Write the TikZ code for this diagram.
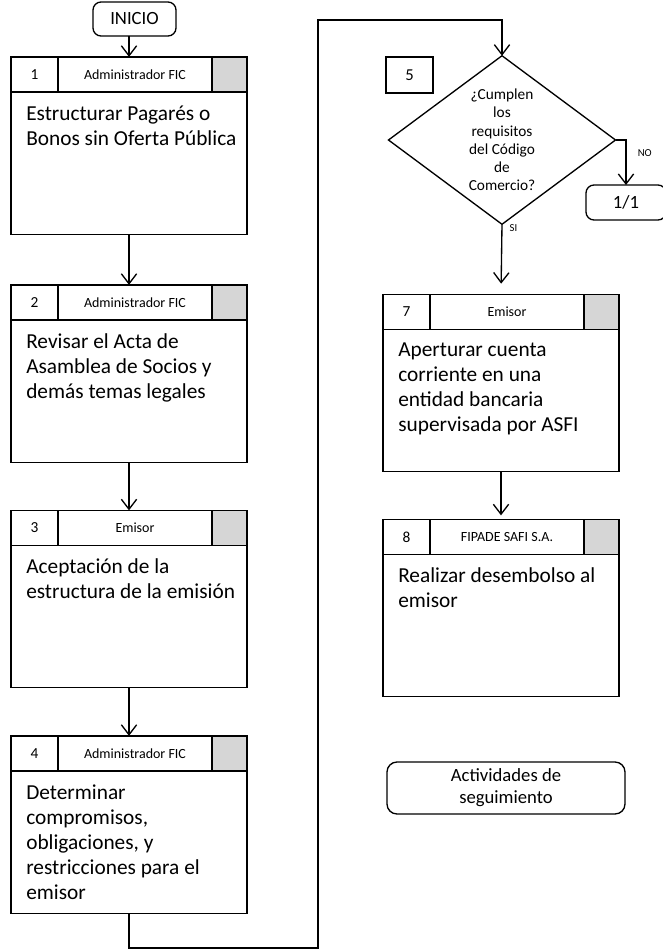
\documentclass[tikz,border=0pt]{standalone}
\usepackage{fontspec}
\setmainfont{Carlito}
\usetikzlibrary{arrows.meta, positioning, shapes.geometric}

\tikzset{
  box/.style={draw, line width=1pt, inner sep=0pt, outer sep=0pt},
  card/.style={box, minimum width=177pt, minimum height=133pt},
  numcell/.style={box, minimum width=35.25pt, minimum height=26.25pt, font=\fontsize{11.5}{13}\selectfont},
  whocell/.style={box, minimum width=115.5pt, minimum height=26.25pt, font=\fontsize{10.5}{12}\selectfont},
  graycell/.style={box, minimum width=26.25pt, minimum height=26.25pt, fill=black!16},
  cardtext/.style={inner sep=0pt, align=left, font=\fontsize{16}{18.75}\selectfont},
  term/.style={box, rounded corners=6pt, align=center},
  arr/.style={-{Straight Barb[length=7.5pt,width=11.5pt]}, line width=1pt},
}

\begin{document}
\begin{tikzpicture}[x=0.75pt, y=-0.75pt]
  \useasboundingbox (0,0) rectangle (662,950);

  % inicio
  \node[term, minimum width=62.25pt, minimum height=25.5pt, font=\fontsize{14}{16}\selectfont] (inicio) at (134.5,19) {INICIO};

  % left column
  \node[card] (s1) at (129,145.5) {};
  \node[numcell, anchor=north west] (n1) at (s1.north west) {1};
  \node[whocell, right=0pt of n1] (w1) {Administrador FIC};
  \node[graycell, right=0pt of w1] (g1) {};
  \node[cardtext, below right=10pt and 11.25pt of n1.south west] (t1) {Estructurar Pagarés o\\Bonos sin Oferta Pública};

  \node[card] (s2) at (129,373.5) {};
  \node[numcell, anchor=north west] (n2) at (s2.north west) {2};
  \node[whocell, right=0pt of n2] (w2) {Administrador FIC};
  \node[graycell, right=0pt of w2] (g2) {};
  \node[cardtext, below right=10pt and 11.25pt of n2.south west] (t2) {Revisar el Acta de\\Asamblea de Socios y\\demás temas legales};

  \node[card] (s3) at (129,599) {};
  \node[numcell, anchor=north west] (n3) at (s3.north west) {3};
  \node[whocell, right=0pt of n3] (w3) {Emisor};
  \node[graycell, right=0pt of w3] (g3) {};
  \node[cardtext, below right=10pt and 11.25pt of n3.south west] (t3) {Aceptación de la\\estructura de la emisión};

  \node[card] (s4) at (129,824.5) {};
  \node[numcell, anchor=north west] (n4) at (s4.north west) {4};
  \node[whocell, right=0pt of n4] (w4) {Administrador FIC};
  \node[graycell, right=0pt of w4] (g4) {};
  \node[cardtext, below right=10pt and 11.25pt of n4.south west] (t4) {Determinar\\compromisos,\\obligaciones, y\\restricciones para el\\emisor};

  % right column
  \node[box, minimum width=35.25pt, minimum height=27pt, font=\fontsize{12.5}{14}\selectfont] (k5) at (409.5,75) {5};
  \node[box, diamond, minimum width=170.25pt, minimum height=123.75pt, align=center, font=\fontsize{11.5}{13.7}\selectfont] (d5) at (502,140) {¿Cumplen\\los\\requisitos\\del Código\\de\\Comercio?};
  \node[term, minimum width=60pt, minimum height=26.25pt, font=\fontsize{14}{16}\selectfont] (pg) at (626,202.5) {1/1};

  \node[card] (s7) at (501,383) {};
  \node[numcell, anchor=north west] (n7) at (s7.north west) {7};
  \node[whocell, right=0pt of n7] (w7) {Emisor};
  \node[graycell, right=0pt of w7] (g7) {};
  \node[cardtext, below right=10pt and 11.25pt of n7.south west] (t7) {Aperturar cuenta\\corriente en una\\entidad bancaria\\supervisada por ASFI};

  \node[card] (s8) at (501,608) {};
  \node[numcell, anchor=north west] (n8) at (s8.north west) {8};
  \node[whocell, right=0pt of n8] (w8) {FIPADE SAFI S.A.};
  \node[graycell, right=0pt of w8] (g8) {};
  \node[cardtext, below right=10pt and 11.25pt of n8.south west] (t8) {Realizar desembolso al\\emisor};

  \node[term, rounded corners=7.5pt, minimum width=178.5pt, minimum height=39pt, font=\fontsize{14}{16.5}\selectfont] (seg) at (506,788) {Actividades de\\seguimiento};

  % connectors
  \coordinate (turnlow) at (318,948);
  \coordinate (turnhigh) at (318,20);
  \draw[arr] (inicio.south -| s1.north) -- (s1.north);
  \draw[arr] (s1.south) -- (s2.north);
  \draw[arr] (s2.south) -- (s3.north);
  \draw[arr] (s3.south) -- (s4.north);
  \draw[arr] (s4.south) |- (turnlow) -- (turnhigh) -| (d5.north);
  \draw[arr] (d5.east) -| node[pos=0.65, right=5pt, font=\fontsize{8}{9}\selectfont] {NO} (pg.north);
  \draw[arr, shorten >=8pt] (d5.south) -- node[pos=0.05, right=2pt, font=\fontsize{8}{9}\selectfont] {SI} (s7.north);
  \draw[arr, shorten >=3pt] (s7.south) -- (s8.north);
\end{tikzpicture}
\end{document}
